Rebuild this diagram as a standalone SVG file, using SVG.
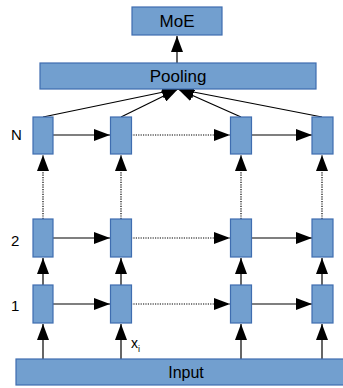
<svg xmlns="http://www.w3.org/2000/svg" width="343" height="388" viewBox="0 0 343 388">
<style>
.box{fill:#729fcf;stroke:#3f6db0;stroke-width:1.2}
.t{font-family:"Liberation Sans",Arial,sans-serif;fill:#000}
.l{stroke:#000;stroke-width:1.2;fill:none}
.d{stroke:#000;stroke-width:1.2;fill:none;stroke-dasharray:1.2,1.2}
</style>
<defs>
<marker id="ah" viewBox="0 0 16 12" refX="16" refY="6" markerWidth="16" markerHeight="12" markerUnits="userSpaceOnUse" orient="auto">
<path d="M0,0 L16,6 L0,12 Z" fill="#000"/>
</marker>
</defs>
<g id="connectors">
<line class="l" x1="177" y1="63" x2="177" y2="36" marker-end="url(#ah)"/>
<line class="l" x1="43" y1="117" x2="178" y2="89" marker-end="url(#ah)"/>
<line class="l" x1="121" y1="117" x2="178" y2="89" marker-end="url(#ah)"/>
<line class="l" x1="241" y1="117" x2="178" y2="89" marker-end="url(#ah)"/>
<line class="l" x1="322" y1="117" x2="178" y2="89" marker-end="url(#ah)"/>
<line class="l" x1="53" y1="135" x2="110" y2="135" marker-end="url(#ah)"/>
<line class="d" x1="131" y1="135" x2="230" y2="135" marker-end="url(#ah)"/>
<line class="l" x1="252" y1="135" x2="312" y2="135" marker-end="url(#ah)"/>
<line class="l" x1="53" y1="238" x2="110" y2="238" marker-end="url(#ah)"/>
<line class="d" x1="131" y1="238" x2="230" y2="238" marker-end="url(#ah)"/>
<line class="l" x1="252" y1="238" x2="312" y2="238" marker-end="url(#ah)"/>
<line class="l" x1="53" y1="304" x2="110" y2="304" marker-end="url(#ah)"/>
<line class="d" x1="131" y1="304" x2="230" y2="304" marker-end="url(#ah)"/>
<line class="l" x1="252" y1="304" x2="312" y2="304" marker-end="url(#ah)"/>
<line class="d" x1="43" y1="219" x2="43" y2="155" marker-end="url(#ah)"/>
<line class="d" x1="121" y1="219" x2="121" y2="155" marker-end="url(#ah)"/>
<line class="d" x1="241" y1="219" x2="241" y2="155" marker-end="url(#ah)"/>
<line class="d" x1="322" y1="219" x2="322" y2="155" marker-end="url(#ah)"/>
<line class="l" x1="43" y1="285" x2="43" y2="258" marker-end="url(#ah)"/>
<line class="l" x1="121" y1="285" x2="121" y2="258" marker-end="url(#ah)"/>
<line class="l" x1="241" y1="285" x2="241" y2="258" marker-end="url(#ah)"/>
<line class="l" x1="322" y1="285" x2="322" y2="258" marker-end="url(#ah)"/>
<line class="l" x1="43" y1="359" x2="43" y2="324" marker-end="url(#ah)"/>
<line class="l" x1="121" y1="359" x2="121" y2="324" marker-end="url(#ah)"/>
<line class="l" x1="241" y1="359" x2="241" y2="324" marker-end="url(#ah)"/>
<line class="l" x1="322" y1="359" x2="322" y2="324" marker-end="url(#ah)"/>
</g>
<g id="moe"><rect class="box" x="132" y="7" width="90" height="28"/><text class="t" x="177" y="27" font-size="17" text-anchor="middle">MoE</text></g>
<g id="pooling"><rect class="box" x="40" y="63" width="276" height="26"/><text class="t" x="178" y="82" font-size="17" text-anchor="middle">Pooling</text></g>
<g id="input"><rect class="box" x="16" y="359" width="340" height="26"/><text class="t" x="186" y="378" font-size="16" text-anchor="middle">Input</text></g>
<g id="cN1"><rect class="box" x="33" y="117" width="20" height="37"/></g>
<g id="cN2"><rect class="box" x="110.5" y="117" width="21" height="37"/></g>
<g id="cN3"><rect class="box" x="230.5" y="117" width="21" height="37"/></g>
<g id="cN4"><rect class="box" x="312" y="117" width="21" height="37"/></g>
<g id="c21"><rect class="box" x="33" y="219" width="20" height="38"/></g>
<g id="c22"><rect class="box" x="110.5" y="219" width="21" height="38"/></g>
<g id="c23"><rect class="box" x="230.5" y="219" width="21" height="38"/></g>
<g id="c24"><rect class="box" x="312" y="219" width="21" height="38"/></g>
<g id="c11"><rect class="box" x="33" y="285" width="20" height="38"/></g>
<g id="c12"><rect class="box" x="110.5" y="285" width="21" height="38"/></g>
<g id="c13"><rect class="box" x="230.5" y="285" width="21" height="38"/></g>
<g id="c14"><rect class="box" x="312" y="285" width="21" height="38"/></g>
<g id="labels">
<text class="t" x="11" y="139.5" font-size="15">N</text>
<text class="t" x="11" y="246" font-size="15">2</text>
<text class="t" x="11" y="311" font-size="15">1</text>
<text class="t" x="131" y="348" font-size="14">x<tspan font-size="9" dy="4">i</tspan></text>
</g>
</svg>
